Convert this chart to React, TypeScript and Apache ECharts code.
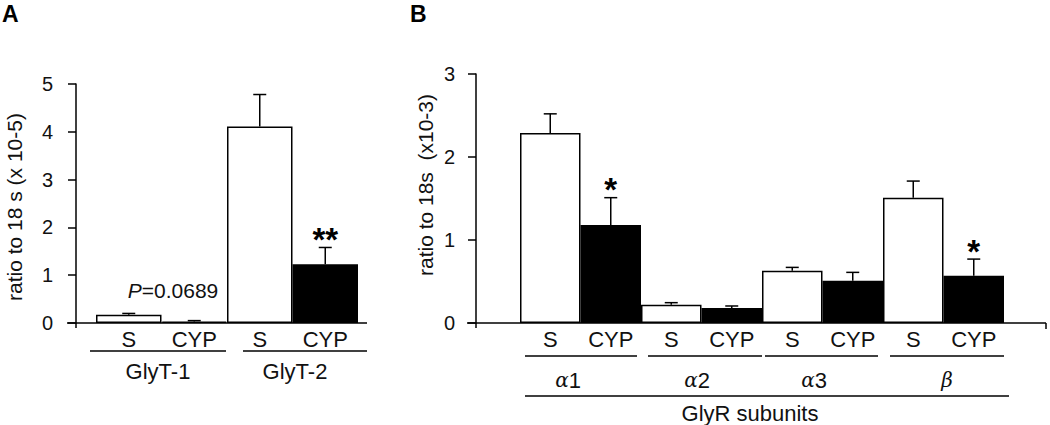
import React, { useEffect, useRef } from "react";
import * as echarts from "echarts";

// ---------- data ----------
const catsA = ["S", "CYP", "S", "CYP"];
const meansA = [0.17, 0.03, 4.11, 1.23];
const semA = [0.03, 0.02, 0.67, 0.35];
const sigA = ["", "", "", "**"];
const fillA = ["#ffffff", "#000000", "#ffffff", "#000000"];
const groupsA = ["GlyT-1", "GlyT-2"];

const catsB = ["S", "CYP", "S", "CYP", "S", "CYP", "S", "CYP"];
const meansB = [2.29, 1.18, 0.22, 0.18, 0.63, 0.51, 1.51, 0.57];
const semB = [0.23, 0.33, 0.025, 0.025, 0.04, 0.1, 0.2, 0.2];
const sigB = ["", "*", "", "", "", "", "", "*"];
const fillB = ["#ffffff", "#000000", "#ffffff", "#000000", "#ffffff", "#000000", "#ffffff", "#000000"];
const groupsB = ["1", "2", "3", ""]; // suffix after Greek letter
const greekB = ["α", "α", "α", "β"];

const yMaxA = 5;
const yMaxB = 3;
const pText = "=0.0689";

const FONT = '"Liberation Sans", Arial, sans-serif';

function errorSeries(xi: number, means: number[], sems: number[], sigs: string[], cap: number) {
  return {
    type: "custom",
    xAxisIndex: xi,
    yAxisIndex: xi,
    z: 5,
    silent: true,
    data: means.map((m, i) => [i, m, m + sems[i]]),
    renderItem: (params: any, api: any) => {
      const i = api.value(0);
      const p0 = api.coord([i, api.value(1)]);
      const p1 = api.coord([i, api.value(2)]);
      const children: any[] = [
        { type: "line", shape: { x1: p0[0], y1: p0[1], x2: p1[0], y2: p1[1] }, style: { stroke: "#000", lineWidth: 1.5 } },
        { type: "line", shape: { x1: p1[0] - cap / 2, y1: p1[1], x2: p1[0] + cap / 2, y2: p1[1] }, style: { stroke: "#000", lineWidth: 1.5 } },
      ];
      const s = sigs[params.dataIndex];
      if (s) {
        children.push({
          type: "text",
          style: { text: s, x: p1[0], y: p1[1] - 8, align: "center", verticalAlign: "middle", font: `bold 33px ${FONT}`, fill: "#000" },
        });
      }
      return { type: "group", children };
    },
  };
}

function barSeries(xi: number, means: number[], fills: string[]) {
  return {
    type: "bar",
    xAxisIndex: xi,
    yAxisIndex: xi,
    barCategoryGap: "0%",
    data: means.map((v, i) => ({ value: v, itemStyle: { color: fills[i] } })),
    itemStyle: { borderColor: "#000", borderWidth: 1.5 },
    silent: true,
  };
}

export default function App() {
  const ref = useRef<HTMLDivElement>(null);
  useEffect(() => {
    document.body.style.margin = "0";
    const chart = echarts.init(ref.current!, null, { renderer: "svg" });
    const lineStyle = { stroke: "#000", lineWidth: 1.5 };
    const hline = (x1: number, x2: number, y: number) => ({ type: "line", shape: { x1, y1: y, x2, y2: y }, style: lineStyle });
    const vline = (x: number, y1: number, y2: number) => ({ type: "line", shape: { x1: x, y1, x2: x, y2 }, style: lineStyle });
    const txt = (text: string, x: number, y: number, size = 22, extra: any = {}) => ({
      type: "text",
      x,
      y,
      style: { text, align: "center", verticalAlign: "middle", font: `${size}px ${FONT}`, fill: "#111", ...extra },
    });

    const underA = [[90, 226], [243, 367]];
    const labelXA = [158, 295];
    const underB = [[525, 637], [648, 762], [765, 878], [890, 1004]];
    const labelXB = [568, 697, 814, 947];

    const yAxisCommon = {
      type: "value",
      min: 0,
      interval: 1,
      splitLine: { show: false },
      axisLine: { show: true, lineStyle: { color: "#000", width: 1.5 } },
      axisTick: { show: true, length: 8, lineStyle: { color: "#000", width: 1.5 } },
    };
    const xAxisCommon = {
      type: "category",
      axisLine: { show: false },
      axisTick: { show: false },
      axisLabel: { fontSize: 22, fontFamily: FONT, color: "#111", margin: 5 },
    };

    chart.setOption({
      animation: false,
      backgroundColor: "#ffffff",
      grid: [
        { left: 96, top: 84, width: 262, height: 239 },
        { left: 520, top: 74, width: 484, height: 249 },
      ],
      xAxis: [
        { ...xAxisCommon, gridIndex: 0, data: catsA },
        { ...xAxisCommon, gridIndex: 1, data: catsB },
      ],
      yAxis: [
        { ...yAxisCommon, gridIndex: 0, max: yMaxA, offset: 20, axisLabel: { fontSize: 20, fontFamily: FONT, color: "#111", margin: 23 } },
        { ...yAxisCommon, gridIndex: 1, max: yMaxB, offset: 44, axisLabel: { fontSize: 20, fontFamily: FONT, color: "#111", margin: 21 } },
      ],
      series: [
        barSeries(0, meansA, fillA),
        errorSeries(0, meansA, semA, sigA, 13),
        barSeries(1, meansB, fillB),
        errorSeries(1, meansB, semB, sigB, 13),
      ],
      graphic: [
        { type: "text", x: 2, y: 2, style: { text: "A", font: `bold 23px ${FONT}`, fill: "#000" } },
        { type: "text", x: 410, y: 2, style: { text: "B", font: `bold 23px ${FONT}`, fill: "#000" } },
        { ...txt("ratio to 18 s (x 10-5)", 14, 207, 21), rotation: Math.PI / 2 },
        { ...txt("ratio to 18s  (x10-3)", 425, 185, 21), rotation: Math.PI / 2 },
        // baselines
        hline(67, 367, 323),
        vline(76, 323, 328),
        hline(467, 1046, 323),
        vline(476, 323, 328),
        vline(1046, 323, 329),
        // group underlines & labels A
        ...underA.map(([a, b]) => hline(a, b, 351)),
        ...groupsA.map((g, i) => txt(g, labelXA[i], 371)),
        // group underlines & labels B
        ...underB.map(([a, b]) => hline(a, b, 356)),
        ...groupsB.map((g, i) => ({
          type: "text",
          x: labelXB[i],
          y: 380,
          style: {
            text: `{g|${greekB[i]}}${g}`,
            align: "center",
            verticalAlign: "middle",
            font: `22px ${FONT}`,
            fill: "#111",
            rich: { g: { fontStyle: "italic", fontFamily: '"DejaVu Serif", serif', fontSize: 20, fill: "#111" } },
          },
        })),
        hline(525, 1009, 396),
        txt("GlyR subunits", 750, 413),
        // P value
        {
          type: "text",
          x: 173,
          y: 290,
          style: {
            text: `{p|P}${pText}`,
            align: "center",
            verticalAlign: "middle",
            font: `21px ${FONT}`,
            fill: "#111",
            rich: { p: { fontStyle: "italic", fontSize: 21, fontFamily: FONT, fill: "#111" } },
          },
        },
      ],
    });
    return () => chart.dispose();
  }, []);
  return <div ref={ref} style={{ width: 1050, height: 425 }} />;
}
